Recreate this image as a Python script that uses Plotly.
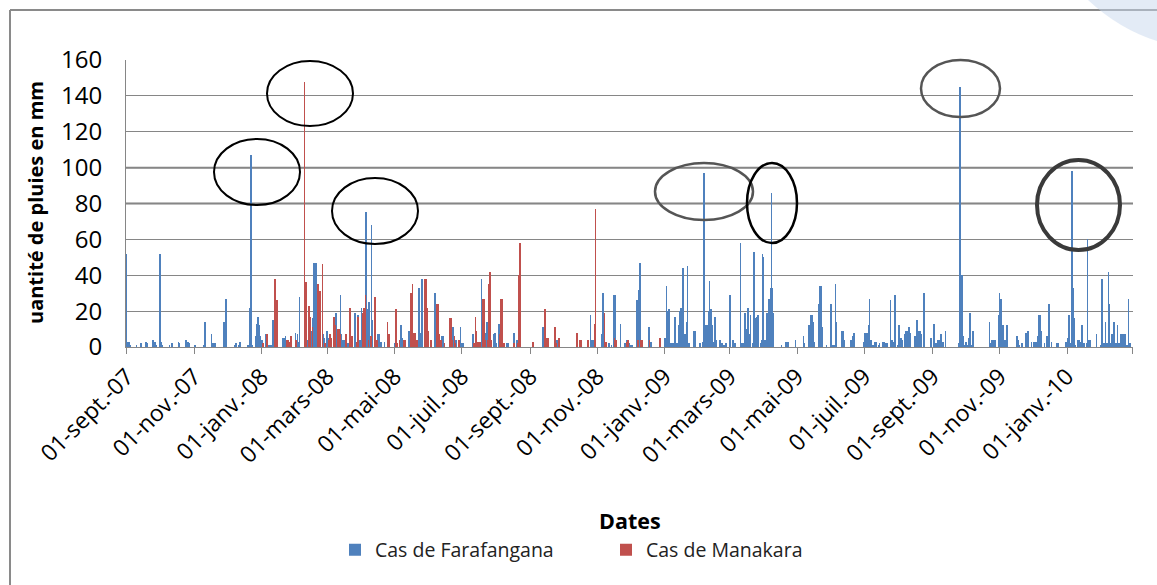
import plotly.graph_objects as go

# ---------------- data ----------------
fara_dates = [
    "2007-09-01","2007-09-02","2007-09-03","2007-09-04","2007-09-10","2007-09-14","2007-09-18","2007-09-19",
    "2007-09-20","2007-09-25","2007-09-26","2007-09-27","2007-09-28","2007-10-01","2007-10-02","2007-10-03",
    "2007-10-10","2007-10-12","2007-10-18","2007-10-19","2007-10-25","2007-10-26","2007-10-27","2007-10-28",
    "2007-11-02","2007-11-10","2007-11-11","2007-11-17","2007-11-18","2007-11-19","2007-11-20","2007-11-28",
    "2007-11-29","2007-11-30","2007-12-08","2007-12-09","2007-12-12","2007-12-13","2007-12-20","2007-12-21",
    "2007-12-22","2007-12-23","2007-12-24","2007-12-27","2007-12-28","2007-12-29","2007-12-30","2007-12-31",
    "2008-01-01","2008-01-02","2008-01-05","2008-01-06","2008-01-07","2008-01-08","2008-01-09","2008-01-10",
    "2008-01-12","2008-01-14","2008-01-16","2008-01-21","2008-01-22","2008-01-23","2008-02-01","2008-02-03",
    "2008-02-04","2008-02-05","2008-02-11","2008-02-12","2008-02-15","2008-02-17","2008-02-18","2008-02-19",
    "2008-02-20","2008-02-21","2008-02-26","2008-02-27","2008-03-01","2008-03-02","2008-03-03","2008-03-04",
    "2008-03-09","2008-03-13","2008-03-14","2008-03-15","2008-03-16","2008-03-20","2008-03-21","2008-03-26",
    "2008-03-29","2008-03-30","2008-03-31","2008-04-01","2008-04-02","2008-04-05","2008-04-06","2008-04-08",
    "2008-04-10","2008-04-11","2008-04-13","2008-04-16","2008-04-17","2008-04-18","2008-04-19","2008-04-22",
    "2008-05-01","2008-05-07","2008-05-08","2008-05-14","2008-05-17","2008-05-18","2008-05-23","2008-05-24",
    "2008-05-26","2008-05-31","2008-06-07","2008-06-13","2008-06-14","2008-06-20","2008-06-22","2008-06-23",
    "2008-06-26","2008-06-28","2008-06-30","2008-07-01","2008-07-02","2008-07-11","2008-07-19","2008-07-20",
    "2008-07-23","2008-07-24","2008-07-30","2008-07-31","2008-08-01","2008-08-04","2008-08-11","2008-08-12",
    "2008-08-17","2008-08-18","2008-08-20","2008-09-13","2008-09-14","2008-09-23","2008-09-24","2008-09-25",
    "2008-09-26","2008-09-27","2008-10-26","2008-10-27","2008-10-28","2008-10-29","2008-11-05","2008-11-06",
    "2008-11-11","2008-11-12","2008-11-14","2008-11-16","2008-11-17","2008-11-22","2008-11-26","2008-11-28",
    "2008-11-29","2008-11-30","2008-12-01","2008-12-02","2008-12-03","2008-12-07","2008-12-08","2008-12-09",
    "2008-12-10","2008-12-11","2008-12-18","2008-12-19","2008-12-20","2009-01-01","2009-01-02","2009-01-03",
    "2009-01-04","2009-01-05","2009-01-06","2009-01-07","2009-01-08","2009-01-09","2009-01-10","2009-01-11",
    "2009-01-12","2009-01-13","2009-01-14","2009-01-15","2009-01-16","2009-01-17","2009-01-18","2009-01-19",
    "2009-01-20","2009-01-21","2009-01-22","2009-01-23","2009-01-28","2009-01-29","2009-02-02","2009-02-05",
    "2009-02-06","2009-02-07","2009-02-08","2009-02-09","2009-02-10","2009-02-11","2009-02-12","2009-02-13",
    "2009-02-14","2009-02-16","2009-02-17","2009-02-20","2009-02-21","2009-02-22","2009-02-24","2009-02-25",
    "2009-02-26","2009-03-01","2009-03-02","2009-03-04","2009-03-06","2009-03-11","2009-03-12","2009-03-13",
    "2009-03-15","2009-03-16","2009-03-18","2009-03-19","2009-03-20","2009-03-22","2009-03-23","2009-03-24",
    "2009-03-25","2009-03-26","2009-03-27","2009-03-29","2009-03-30","2009-03-31","2009-04-01","2009-04-02",
    "2009-04-04","2009-04-05","2009-04-06","2009-04-07","2009-04-08","2009-04-09","2009-04-10","2009-04-17",
    "2009-04-21","2009-04-22","2009-04-23","2009-04-30","2009-05-07","2009-05-08","2009-05-12","2009-05-13",
    "2009-05-14","2009-05-15","2009-05-16","2009-05-17","2009-05-21","2009-05-22","2009-05-23","2009-05-24",
    "2009-05-28","2009-06-01","2009-06-03","2009-06-04","2009-06-05","2009-06-06","2009-06-11","2009-06-12",
    "2009-06-13","2009-06-19","2009-06-20","2009-06-21","2009-06-22","2009-07-01","2009-07-02","2009-07-03",
    "2009-07-04","2009-07-05","2009-07-06","2009-07-07","2009-07-08","2009-07-09","2009-07-10","2009-07-11",
    "2009-07-12","2009-07-14","2009-07-15","2009-07-18","2009-07-19","2009-07-20","2009-07-21","2009-07-22",
    "2009-07-25","2009-07-26","2009-07-27","2009-07-28","2009-07-29","2009-08-01","2009-08-02","2009-08-03",
    "2009-08-04","2009-08-05","2009-08-07","2009-08-08","2009-08-09","2009-08-10","2009-08-11","2009-08-12",
    "2009-08-16","2009-08-17","2009-08-18","2009-08-19","2009-08-20","2009-08-21","2009-08-22","2009-08-24",
    "2009-08-25","2009-08-31","2009-09-02","2009-09-03","2009-09-04","2009-09-05","2009-09-06","2009-09-07",
    "2009-09-08","2009-09-09","2009-09-10","2009-09-11","2009-09-13","2009-09-25","2009-09-26","2009-09-27",
    "2009-09-28","2009-09-29","2009-09-30","2009-10-01","2009-10-02","2009-10-03","2009-10-04","2009-10-05",
    "2009-10-06","2009-10-07","2009-10-08","2009-10-23","2009-10-24","2009-10-25","2009-10-26","2009-10-27",
    "2009-10-28","2009-10-31","2009-11-01","2009-11-02","2009-11-03","2009-11-04","2009-11-06","2009-11-07",
    "2009-11-08","2009-11-17","2009-11-18","2009-11-19","2009-11-21","2009-11-22","2009-11-25","2009-11-27",
    "2009-11-30","2009-12-02","2009-12-03","2009-12-05","2009-12-06","2009-12-07","2009-12-08","2009-12-09",
    "2009-12-12","2009-12-14","2009-12-15","2009-12-16","2009-12-18","2009-12-23","2009-12-24","2009-12-31",
    "2010-01-01","2010-01-02","2010-01-03","2010-01-05","2010-01-06","2010-01-07","2010-01-08","2010-01-09",
    "2010-01-11","2010-01-12","2010-01-13","2010-01-14","2010-01-15","2010-01-16","2010-01-17","2010-01-19",
    "2010-01-20","2010-01-21","2010-01-22","2010-01-28","2010-02-01","2010-02-02","2010-02-04","2010-02-05",
    "2010-02-06","2010-02-07","2010-02-08","2010-02-09","2010-02-10","2010-02-11","2010-02-12","2010-02-13",
    "2010-02-14","2010-02-15","2010-02-16","2010-02-17","2010-02-18","2010-02-19","2010-02-20","2010-02-21",
    "2010-02-22","2010-02-23","2010-02-24","2010-02-25","2010-02-26","2010-02-27","2010-02-28",
]
fara_mm = [
    52,3,3,1,1,2,3,3,
    2,4,3,3,1,52,3,1,
    1,2,3,2,4,3,3,2,
    1,1,14,7,2,2,2,14,
    14,27,1,2,1,3,1,1,
    22,107,1,6,13,17,12,6,
    4,4,7,7,1,1,1,1,
    15,1,1,5,5,6,8,7,
    3,28,4,4,9,16,47,42,
    47,20,7,5,9,5,6,6,
    19,29,7,4,4,2,2,19,
    18,4,4,22,4,75,21,25,
    68,15,5,7,7,3,3,3,
    2,12,5,9,7,8,33,8,
    38,12,30,6,6,13,6,11,
    4,2,11,2,2,7,38,4,
    8,14,7,8,2,13,2,2,
    8,8,4,11,12,2,3,4,
    4,1,18,4,4,1,7,30,
    2,2,1,29,29,13,2,4,
    4,2,1,1,1,26,26,32,
    47,2,11,3,3,5,5,34,
    20,21,2,2,2,2,17,17,
    2,2,12,20,22,22,44,7,
    7,14,45,2,9,9,2,3,
    97,12,12,12,20,37,21,12,
    3,17,4,4,4,2,1,1,
    2,29,29,4,2,58,2,2,
    19,10,22,7,18,2,53,7,
    16,17,18,2,4,52,50,4,
    19,11,27,33,86,33,19,1,
    3,3,3,4,6,2,12,2,
    18,18,14,3,24,34,34,11,
    1,24,1,1,35,14,9,9,
    4,4,4,6,8,3,8,8,
    8,12,27,4,4,1,1,3,
    3,1,2,3,3,2,2,2,
    26,4,4,3,29,1,12,5,
    5,4,7,9,9,4,11,8,
    6,6,15,1,9,9,7,30,
    30,5,13,13,2,2,4,4,
    3,7,3,3,9,2,145,40,
    40,6,1,3,3,1,5,19,
    1,1,9,14,2,4,4,3,
    4,18,30,27,27,12,4,4,
    12,6,4,1,2,2,8,9,
    3,3,3,3,6,18,18,9,
    2,6,6,24,3,2,2,3,
    3,5,18,2,98,33,16,1,
    4,4,3,2,12,2,2,2,
    60,4,4,7,1,38,2,14,
    2,2,42,24,2,7,2,14,
    2,2,12,2,2,7,7,4,
    7,7,1,1,27,2,2,
]

mana_dates = [
    "2008-01-02","2008-01-06","2008-01-13","2008-01-15","2008-01-24","2008-01-25","2008-01-26","2008-01-27",
    "2008-01-28","2008-02-01","2008-02-09","2008-02-10","2008-02-13","2008-02-14","2008-02-16","2008-02-21",
    "2008-02-22","2008-02-23","2008-02-25","2008-02-27","2008-02-28","2008-03-02","2008-03-03","2008-03-04",
    "2008-03-06","2008-03-07","2008-03-08","2008-03-10","2008-03-11","2008-03-12","2008-03-17","2008-03-18",
    "2008-03-21","2008-03-22","2008-03-23","2008-03-27","2008-03-28","2008-03-29","2008-04-02","2008-04-03",
    "2008-04-04","2008-04-07","2008-04-09","2008-04-13","2008-04-14","2008-04-15","2008-04-24","2008-04-25",
    "2008-04-26","2008-05-02","2008-05-03","2008-05-05","2008-05-09","2008-05-10","2008-05-15","2008-05-16",
    "2008-05-17","2008-05-18","2008-05-19","2008-05-21","2008-05-28","2008-05-29","2008-05-30","2008-05-31",
    "2008-06-02","2008-06-03","2008-06-08","2008-06-09","2008-06-10","2008-06-11","2008-06-12","2008-06-15",
    "2008-06-20","2008-06-21","2008-06-22","2008-06-24","2008-06-25","2008-06-28","2008-07-11","2008-07-12",
    "2008-07-13","2008-07-14","2008-07-15","2008-07-16","2008-07-17","2008-07-20","2008-07-21","2008-07-22",
    "2008-07-24","2008-07-25","2008-07-26","2008-07-27","2008-08-04","2008-08-05","2008-08-06","2008-08-08",
    "2008-08-17","2008-08-20","2008-08-21","2008-08-22","2008-08-23","2008-09-03","2008-09-14","2008-09-15",
    "2008-09-16","2008-09-17","2008-09-23","2008-09-24","2008-09-27","2008-10-13","2008-10-16","2008-10-17",
    "2008-10-23","2008-10-29","2008-10-30","2008-11-07","2008-11-08","2008-11-09","2008-11-16","2008-11-17",
    "2008-11-18","2008-11-27","2008-11-28","2008-11-29","2008-12-07","2008-12-08","2008-12-10","2008-12-11",
    "2008-12-18","2008-12-27","2008-12-28",
]
mana_mm = [
    2,7,38,26,4,4,3,6,
    6,4,148,36,23,17,11,35,
    31,31,46,2,2,4,7,5,
    17,17,12,10,10,7,7,7,
    22,6,6,3,17,17,19,22,
    29,4,6,28,4,4,14,7,
    7,21,2,4,4,4,30,30,
    35,8,8,4,38,38,22,9,
    4,4,24,24,7,4,4,2,
    16,16,4,6,2,4,2,2,
    17,9,3,3,3,27,27,4,
    4,35,42,4,7,27,27,2,
    2,2,40,58,58,3,21,5,
    5,5,11,2,5,8,4,4,
    4,13,77,19,3,3,5,4,
    4,3,4,4,4,4,4,4,
    4,5,5,
]

tick_dates = ["2007-09-01","2007-11-01","2008-01-01","2008-03-01","2008-05-01","2008-07-01","2008-09-01",
              "2008-11-01","2009-01-01","2009-03-01","2009-05-01","2009-07-01","2009-09-01","2009-11-01",
              "2010-01-01","2010-03-01"]
tick_text = ["01-sept.-07","01-nov.-07","01-janv.-08","01-mars-08","01-mai-08","01-juil.-08","01-sept.-08",
             "01-nov.-08","01-janv.-09","01-mars-09","01-mai-09","01-juil.-09","01-sept.-09","01-nov.-09",
             "01-janv.-10",""]

BLUE = "#4F81BD"
RED = "#C0504D"
GRID = "#868686"
FONT = "Open Sans"

# plot-area geometry in pixels (for decorations)
W, H = 1157, 585
L, R, T, B = 126, 1133, 60, 347


def px(x):
    return (x - L) / (R - L)


def py(y):
    return (B - y) / (B - T)


fig = go.Figure()
fig.add_trace(go.Bar(x=fara_dates, y=fara_mm, name="Cas de Farafangana",
                     marker=dict(color=BLUE, line=dict(width=0))))
fig.add_trace(go.Bar(x=mana_dates, y=mana_mm, name="Cas de Manakara",
                     marker=dict(color=RED, line=dict(width=0))))

shapes = []
# heavier gridlines at 80 and 100 (as in the picture)
for v in (80, 100):
    shapes.append(dict(type="line", xref="paper", yref="y", x0=0, x1=1, y0=v, y1=v,
                       line=dict(color="#7f7f7f", width=2), layer="below"))
# outer frame of the chart
shapes.append(dict(type="line", xref="paper", yref="paper", x0=px(10), x1=px(10), y0=py(10), y1=py(590),
                   line=dict(color="#8a8a8a", width=2)))
shapes.append(dict(type="line", xref="paper", yref="paper", x0=px(10), x1=px(1160), y0=py(10), y1=py(10),
                   line=dict(color="#8a8a8a", width=2)))
# faint blue decoration in the top-right corner
shapes.append(dict(type="path", xref="paper", yref="paper",
                   path="M %f %f L %f %f L %f %f Q %f %f %f %f Z" % (
                       px(1088), py(0), px(1160), py(0), px(1160), py(42),
                       px(1120), py(30), px(1088), py(0)),
                   fillcolor="rgba(200,216,238,0.5)", line=dict(width=0)))
# highlight ellipses (pixel boxes)
ellipses = [
    ((214, 139, 300, 205), "#000000", 2),
    ((267, 61, 353, 126), "#000000", 2),
    ((332, 178, 418, 244), "#000000", 2),
    ((655, 163, 753, 220), "#555555", 2.5),
    ((747, 163, 797, 243), "#000000", 2.5),
    ((921, 60, 1000, 117), "#555555", 2.5),
    ((1037, 160, 1120, 250), "#3a3a3a", 4),
]
for (x0, y0, x1, y1), col, lw in ellipses:
    shapes.append(dict(type="circle", xref="paper", yref="paper",
                       x0=px(x0), x1=px(x1), y0=py(y1), y1=py(y0),
                       line=dict(color=col, width=lw)))

fig.update_layout(
    template="none",
    width=W, height=H,
    margin=dict(l=L, r=W - R, t=T, b=H - B, autoexpand=False),
    paper_bgcolor="white", plot_bgcolor="white",
    barmode="group", bargap=0, bargroupgap=0,
    font=dict(family=FONT, color="#000000"),
    shapes=shapes,
    showlegend=True,
    legend=dict(orientation="h", xref="container", yref="container",
                x=335 / W, xanchor="left", y=1 - 550 / H, yanchor="middle",
                font=dict(size=19.5, color="#222222", family=FONT),
                bgcolor="rgba(0,0,0,0)",
                entrywidth=226, entrywidthmode="pixels", traceorder="normal"),
    xaxis=dict(type="date", range=["2007-08-31 03:00", "2010-03-01 21:00"], automargin=False,
               tickmode="array", tickvals=tick_dates, ticktext=tick_text,
               tickangle=-45, tickfont=dict(size=23, color="#000000"),
               showgrid=False, showline=True, linecolor=GRID, linewidth=1,
               ticks="outside", ticklen=6, tickcolor=GRID, zeroline=False),
    yaxis=dict(range=[0, 160], dtick=20, tick0=0, automargin=False,
               showgrid=True, gridcolor=GRID, gridwidth=1,
               showline=True, linecolor=GRID, linewidth=1, zeroline=False,
               tickfont=dict(size=24, color="#000000"), ticks="", ticklabelstandoff=18),
    annotations=[
        dict(text="<b>uantité de pluies en mm</b>", xref="paper", yref="paper",
             x=px(35), y=py(203), xanchor="center", yanchor="middle",
             textangle=-90, showarrow=False,
             font=dict(size=20, color="#000000", family=FONT)),
        dict(text="<b>Dates</b>", xref="paper", yref="paper",
             x=px(630), y=py(520), xanchor="center", yanchor="middle", showarrow=False,
             font=dict(size=21.5, color="#000000", family=FONT)),
    ],
)

fig.write_html("out.html", config={"displayModeBar": False},
               post_script="document.body.style.margin='0';document.body.style.padding='0';")
